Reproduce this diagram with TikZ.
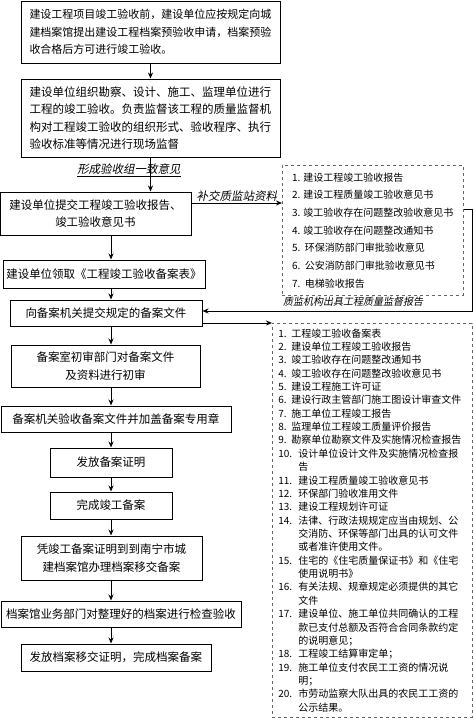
\documentclass[tikz,border=0pt]{standalone}
\usepackage{fontspec}
\setmainfont{Noto Sans CJK SC}
\newfontfamily\itcjk[FakeSlant=0.2]{Noto Sans CJK SC}
\usetikzlibrary{arrows.meta, positioning, calc}
\tikzset{
  fl/.style = {draw=black, fill=white, line width=1pt, align=center,
    inner sep=0pt, font=\fontsize{11.5}{17.5}\selectfont},
  fllist/.style = {draw=black!60, dashed, line width=0.6pt, align=left},
  fllig/.style = {draw=black, line width=1pt},
  flseta/.style = {fllig, -{Stealth[length=6pt, width=5pt]}},
  flrot/.style = {font=\itcjk\fontsize{11.5}{14}\selectfont, inner sep=1pt}
}
\newcommand{\fN}[1]{\makebox[13pt][l]{#1}}
\newcommand{\fM}[1]{\makebox[20pt][l]{#1}}

\begin{document}
\begin{tikzpicture}[x=1pt, y=-1pt]
  \useasboundingbox (0,0) rectangle (474,724);
  \coordinate (col) at (111,0);
  \coordinate (rt) at (472,0);
  % main column
  \node [fl, minimum width=259, minimum height=62, align=left,
    font=\fontsize{11}{17.5}\selectfont] (b1) at (150.5,32)
    {建设工程项目竣工验收前，建设单位应按规定向城\\建档案馆提出建设工程档案预验收申请，档案预验\\收合格后方可进行竣工验收。};
  \node [fl, minimum width=259, minimum height=78, align=left] (b2) at (150.5,118)
    {建设单位组织勘察、设计、施工、监理单位进行\\工程的竣工验收。负责监督该工程的质量监督机\\构对工程竣工验收的组织形式、验收程序、执行\\验收标准等情况进行现场监督};
  \node [fl, minimum width=191, minimum height=43] (b3) at (95.5,213.5)
    {建设单位提交工程竣工验收报告、\\竣工验收意见书};
  \node [fl, minimum width=202, minimum height=28] (b4) at (104,274)
    {建设单位领取《工程竣工验收备案表》};
  \node [fl, minimum width=192, minimum height=26] (b5) at (106,313)
    {向备案机关提交规定的备案文件};
  \node [fl, minimum width=189, minimum height=42] (b6) at (105.5,366)
    {备案室初审部门对备案文件\\及资料进行初审};
  \node [fl, minimum width=230, minimum height=26] (b7) at (116,419)
    {备案机关验收备案文件并加盖备案专用章};
  \node [fl, minimum width=122, minimum height=29] (b8) at (111,462.5)
    {发放备案证明};
  \node [fl, minimum width=122, minimum height=27] (b9) at (111,505.5)
    {完成竣工备案};
  \node [fl, minimum width=181, minimum height=44] (b10) at (111.5,558)
    {凭竣工备案证明到到南宁市城\\建档案馆办理档案移交备案};
  \node [fl, minimum width=240, minimum height=26] (b11) at (121,614)
    {档案馆业务部门对整理好的档案进行检查验收};
  \node [fl, minimum width=190, minimum height=27] (b12) at (116,657.5)
    {发放档案移交证明，完成档案备案};
  % lists on the right
  \node [fllist, anchor=north west, minimum width=181, minimum height=130,
    font=\fontsize{10}{17.7}\selectfont] (rb1) at (282,165)
    {1. 建设工程竣工验收报告\\2. 建设工程质量竣工验收意见书\\3. 竣工验收存在问题整改验收意见书\\4. 竣工验收存在问题整改通知书\\5.\ \ 环保消防部门审批验收意见\\6.\ \ 公安消防部门审批验收意见书\\7.\ \ 电梯验收报告};
  \node [fllist, anchor=north west, text width=188, inner xsep=6pt,
    minimum height=394, font=\fontsize{10}{13.36}\selectfont] (rb2) at (272,323)
    {\fN{1.}工程竣工验收备案表\\
     \fN{2.}建设单位工程竣工验收报告\\
     \fN{3.}竣工验收存在问题整改通知书\\
     \fN{4.}竣工验收存在问题整改验收意见书\\
     \fN{5.}建设工程施工许可证\\
     \fN{6.}建设行政主管部门施工图设计审查文件\\
     \fN{7.}施工单位工程竣工报告\\
     \fN{8.}监理单位工程竣工质量评价报告\\
     \fN{9.}勘察单位勘察文件及实施情况检查报告\\
     \fM{10.}设计单位设计文件及实施情况检查报\\
     \fM{}告\\
     \fM{11.}建设工程质量竣工验收意见书\\
     \fM{12.}环保部门验收准用文件\\
     \fM{13.}建设工程规划许可证\\
     \fM{14.}法律、行政法规规定应当由规划、公\\
     \fM{}交消防、环保等部门出具的认可文件\\
     \fM{}或者准许使用文件。\\
     \fM{15.}住宅的《住宅质量保证书》和《住宅\\
     \fM{}使用说明书》\\
     \fM{16.}有关法规、规章规定必须提供的其它\\
     \fM{}文件\\
     \fM{17.}建设单位、施工单位共同确认的工程\\
     \fM{}款已支付总额及否符合合同条款约定\\
     \fM{}的说明意见；\\
     \fM{18.}工程竣工结算审定单；\\
     \fM{19.}施工单位支付农民工工资的情况说\\
     \fM{}明；\\
     \fM{20.}市劳动监察大队出具的农民工工资的\\
     \fM{}公示结果。};
  % connectors
  \draw [flseta] (b1.south) -- (b2.north);
  \draw [flseta] (b2.south) -- (b2.south |- b3.north);
  \node [flrot] (lc) at (129,170) {\underline{形成验收组一致意见}};
  \foreach \a/\b in {b3/b4, b4/b5, b5/b6, b6/b7, b7/b8, b8/b9, b9/b10, b10/b11, b11/b12}
    \draw [flseta] (\a.south -| col) -- (\b.north -| col);
  \draw [flseta] ([yshift=10.5pt]b3.east) coordinate (t3) -- (t3 -| rb1.west)
    node [flrot, midway, above] (lb) {补交质监站资料};
  \node [flrot, anchor=north west, font=\itcjk\fontsize{10}{12}\selectfont] (lq)
    at (rb1.south west) {质监机构出具工程质量监督报告};
  \draw [flseta] ([yshift=21pt]rb1.east) -| ([yshift=2pt]b5.east -| rt)
    -- ([yshift=2pt]b5.east);
  \draw [flseta] ([yshift=-10pt]b5.east) -- (rb2.north west);
\end{tikzpicture}
\end{document}
